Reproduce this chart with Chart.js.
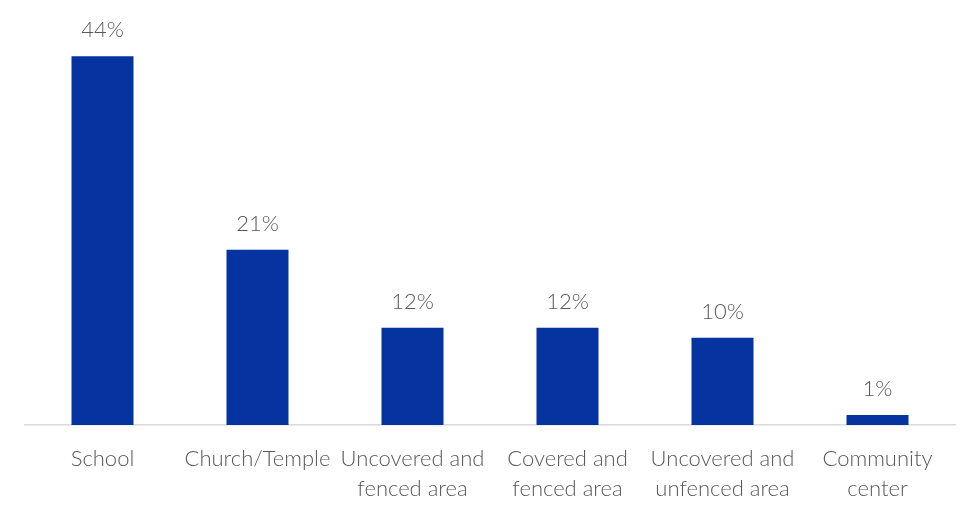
<!DOCTYPE html>
<html>
<head>
<meta charset="utf-8">
<script src="https://cdn.jsdelivr.net/npm/chart.js@4"></script>
<style>
  html, body { margin: 0; padding: 0; background: #ffffff; }
  #wrap { width: 973px; height: 505px; }
</style>
</head>
<body>
<div id="wrap"><canvas id="c" width="973" height="505"></canvas></div>
<script>
const categories = [
  "School",
  "Church/Temple",
  ["Uncovered and", "fenced area"],
  ["Covered and", "fenced area"],
  ["Uncovered and", "unfenced area"],
  ["Community", "center"]
];
const values = [44, 20.9, 11.6, 11.6, 10.4, 1.2];
const labelTexts = ["44%", "21%", "12%", "12%", "10%", "1%"];

const barColor = "#0533a0";
const textColor = "#595959";
const fontFamily = "Lato, 'Open Sans', sans-serif";

const valueLabels = {
  id: "valueLabels",
  afterDatasetsDraw(chart) {
    const ctx = chart.ctx;
    const meta = chart.getDatasetMeta(0);
    ctx.save();
    ctx.fillStyle = textColor;
    ctx.font = "300 22px " + fontFamily;
    ctx.textAlign = "center";
    ctx.textBaseline = "middle";
    meta.data.forEach((bar, i) => {
      ctx.fillText(labelTexts[i], bar.x, bar.y - 26);
    });
    ctx.restore();
  }
};

new Chart(document.getElementById("c"), {
  type: "bar",
  data: {
    labels: categories,
    datasets: [{
      data: values,
      backgroundColor: barColor,
      borderWidth: 0,
      barPercentage: 1,
      categoryPercentage: 0.4
    }]
  },
  options: {
    responsive: false,
    animation: false,
    devicePixelRatio: 1,
    layout: { padding: { left: 25, right: 18, top: 6, bottom: -18 } },
    plugins: { legend: { display: false }, tooltip: { enabled: false } },
    scales: {
      x: {
        grid: { display: false, drawTicks: false },
        border: { display: true, color: "#d9d9d9", width: 1.5 },
        ticks: {
          color: textColor,
          padding: 19,
          maxRotation: 0,
          autoSkip: false,
          font: { family: fontFamily, size: 22, weight: 300, lineHeight: 30 / 22 }
        }
      },
      y: {
        display: false,
        min: 0,
        max: 50
      }
    }
  },
  plugins: [valueLabels]
});
</script>
</body>
</html>
